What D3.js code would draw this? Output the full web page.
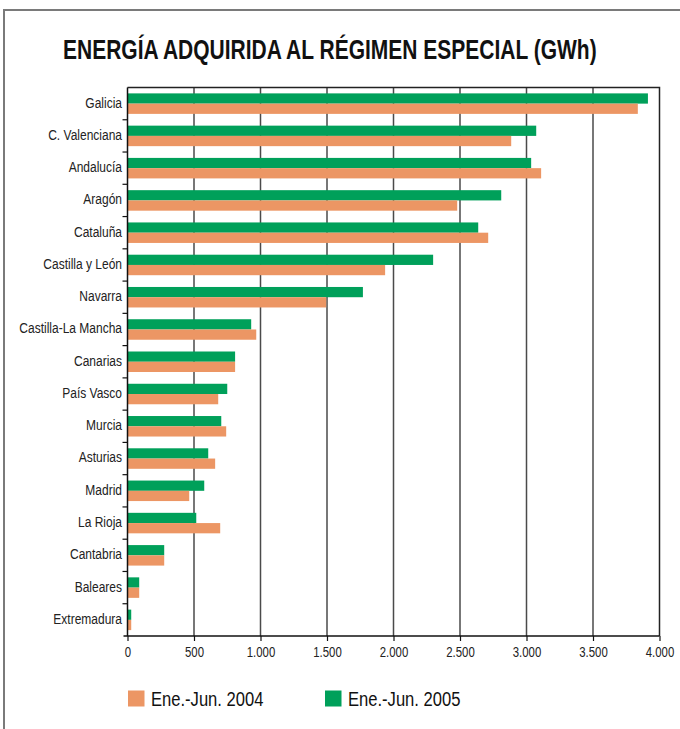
<!DOCTYPE html>
<html>
<head>
<meta charset="utf-8">
<script src="https://cdn.jsdelivr.net/npm/d3@7/dist/d3.min.js"></script>
<style>
  html, body { margin: 0; padding: 0; background: #fff; }
  svg { display: block; }
</style>
</head>
<body>
<svg id="chart" width="680" height="729"></svg>
<script>
// Energy purchased under the special regime, by region (GWh)
const regions = [
  "Galicia", "C. Valenciana", "Andalucía", "Aragón", "Cataluña",
  "Castilla y León", "Navarra", "Castilla-La Mancha", "Canarias",
  "País Vasco", "Murcia", "Asturias", "Madrid", "La Rioja",
  "Cantabria", "Baleares", "Extremadura"
];
const values2004 = [3837, 2885, 3110, 2479, 2712, 1937, 1494, 968, 809, 682, 742, 659, 464, 697, 276, 88, 28];
const values2005 = [3913, 3073, 3035, 2810, 2637, 2298, 1770, 930, 809, 750, 705, 607, 577, 517, 276, 88, 28];
const xTicks = [0, 500, 1000, 1500, 2000, 2500, 3000, 3500, 4000];
const seriesNames = ["Ene.-Jun. 2004", "Ene.-Jun. 2005"];
const colors = { y2004: "#EC9664", y2005: "#00A05A" };

const svg = d3.select("#chart");
// a condensed look is obtained by squeezing Liberation Sans horizontally
const font = '"Liberation Sans", Arial, sans-serif';

// outer panel border (left and top edges)
svg.append("path")
  .attr("d", "M4,729 L4,10 L680,10")
  .attr("fill", "none").attr("stroke", "#7a7a7a").attr("stroke-width", 2);

// title, squeezed to its target width
const title = svg.append("text")
  .attr("font-family", font).attr("font-weight", "bold")
  .attr("font-size", 27).attr("fill", "#111")
  .text("ENERGÍA ADQUIRIDA AL RÉGIMEN ESPECIAL (GWh)");
const titleW = title.node().getComputedTextLength();
title.attr("transform", `translate(63,58.5) scale(${534 / titleW},1)`);

const plot = { left: 127.5, right: 659.5, top: 87.5, bottom: 636 };

const x = d3.scaleLinear().domain([0, 4000]).range([plot.left, plot.right]);
const y = d3.scaleBand().domain(regions).range([plot.top, plot.bottom]).padding(0);
const barH = 10.25;

// vertical grid lines
svg.append("g").selectAll("line")
  .data(xTicks.filter(d => d > 0 && d < 4000))
  .join("line")
  .attr("x1", d => x(d)).attr("x2", d => x(d))
  .attr("y1", plot.top).attr("y2", plot.bottom)
  .attr("stroke", "#4a4a4a").attr("stroke-width", 1.5);

// frame top and right
svg.append("path")
  .attr("d", `M${plot.left},${plot.top} L${plot.right},${plot.top} L${plot.right},${plot.bottom}`)
  .attr("fill", "none").attr("stroke", "#222").attr("stroke-width", 1.5);

// bars
const groups = svg.append("g").selectAll("g")
  .data(regions)
  .join("g")
  .attr("transform", d => `translate(0,${y(d) + y.bandwidth() / 2})`);

groups.append("rect")
  .attr("x", x(0))
  .attr("y", -barH)
  .attr("height", barH)
  .attr("width", (d, i) => x(values2005[i]) - x(0))
  .attr("fill", colors.y2005);

groups.append("rect")
  .attr("x", x(0))
  .attr("y", 0)
  .attr("height", barH)
  .attr("width", (d, i) => x(values2004[i]) - x(0))
  .attr("fill", colors.y2004);

// y axis: ticks on band boundaries, labels centred in bands
const yAxisG = svg.append("g");
yAxisG.append("line")
  .attr("x1", plot.left).attr("x2", plot.left)
  .attr("y1", plot.top).attr("y2", plot.bottom)
  .attr("stroke", "#111").attr("stroke-width", 1.5);
yAxisG.selectAll("line.tk")
  .data(regions.slice(1))
  .join("line").attr("class", "tk")
  .attr("x1", plot.left - 5).attr("x2", plot.left)
  .attr("y1", d => y(d)).attr("y2", d => y(d))
  .attr("stroke", "#111").attr("stroke-width", 1.2);
yAxisG.selectAll("text")
  .data(regions)
  .join("text")
  .attr("transform", d => `translate(122,${y(d) + y.bandwidth() / 2 - 1.5}) scale(0.8,1)`)
  .attr("dy", "0.36em")
  .attr("text-anchor", "end")
  .attr("font-family", font).attr("font-size", 15).attr("fill", "#222")
  .text(d => d);

// x axis
const xAxis = d3.axisBottom(x)
  .tickValues(xTicks)
  .tickSize(5)
  .tickPadding(5)
  .tickFormat(d => d3.format(",")(d).replace(/,/g, "."));
const xAxisG = svg.append("g")
  .attr("transform", `translate(0,${plot.bottom})`)
  .call(xAxis);
xAxisG.select(".domain")
  .attr("d", `M${plot.left - 4},0 H${plot.right}`)
  .attr("stroke", "#111").attr("stroke-width", 1.5);
xAxisG.selectAll(".tick line").attr("stroke", "#111").attr("stroke-width", 1.2);
xAxisG.selectAll(".tick text")
  .attr("font-family", font).attr("font-size", 15).attr("fill", "#222")
  .attr("transform", "scale(0.76,1)");

// legend
const legend = svg.append("g").attr("transform", "translate(128,690.5)");
const legendItems = [
  { name: seriesNames[0], color: colors.y2004, dx: 0 },
  { name: seriesNames[1], color: colors.y2005, dx: 197 }
];
const li = legend.selectAll("g").data(legendItems).join("g")
  .attr("transform", d => `translate(${d.dx},0)`);
li.append("rect").attr("width", 16.5).attr("height", 16).attr("fill", d => d.color);
li.append("text")
  .attr("transform", "translate(23,15.5) scale(0.79,1)")
  .attr("font-family", font).attr("font-size", 21).attr("fill", "#111")
  .text(d => d.name);
</script>
</body>
</html>
